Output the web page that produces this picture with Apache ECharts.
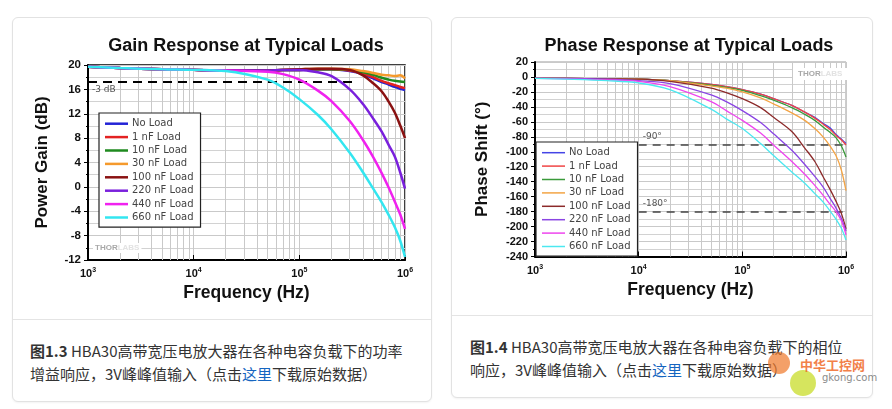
<!DOCTYPE html>
<html>
<head>
<meta charset="utf-8">
<script src="https://cdn.jsdelivr.net/npm/echarts@6/dist/echarts.min.js"></script>
<style>
  html, body { margin: 0; padding: 0; background: #fff; width: 892px; height: 409px; overflow: hidden; position: relative; }
  .card { position: absolute; box-sizing: border-box; border: 1px solid #e2e2e2; border-radius: 6px; background: #fff; box-shadow: 0 1px 2px rgba(0,0,0,0.05); }
  .sep { position: absolute; left: 0; right: 0; border-top: 1px solid #e4e4e4; }
  .cap { position: absolute; font-family: "Noto Sans CJK SC", sans-serif; font-size: 15px; line-height: 23px; color: #333; white-space: nowrap; }
  .cap b { font-weight: 700; }
  .cap a { color: #1565c0; text-decoration: none; }
  .chart { position: absolute; }
  .wm1 { position: absolute; font-family: "Noto Sans CJK SC", sans-serif; font-weight: 700; font-size: 13px; color: #f06a2a; opacity: 0.85; }
  .wm2 { position: absolute; font-family: "DejaVu Sans", sans-serif; font-size: 10px; color: #777; opacity: 0.85; }
  .gear { position: absolute; border-radius: 50%; }
</style>
</head>
<body>
<div class="card" style="left:12px;top:17px;width:420px;height:385px;">
  <div class="sep" style="top:301px;"></div>
  <div class="cap" style="left:17px;top:321px;"><b>图1.3</b> HBA30高带宽压电放大器在各种电容负载下的功率<br>增益响应，3V峰峰值输入（点击<a>这里</a>下载原始数据）</div>
</div>
<div class="card" style="left:451px;top:17px;width:422px;height:381px;">
  <div class="sep" style="top:297px;"></div>
  <div class="cap" style="left:18px;top:317px;"><b>图1.4</b> HBA30高带宽压电放大器在各种电容负载下的相位<br>响应，3V峰峰值输入（点击<a>这里</a>下载原始数据）</div>
</div>
<div id="gain" class="chart" style="left:12px;top:17px;width:420px;height:300px;"></div>
<div id="phase" class="chart" style="left:451px;top:17px;width:422px;height:296px;"></div>
<div class="gear" style="left:768px;top:352px;width:22px;height:22px;background:rgba(240,120,40,0.7);"></div>
<div class="gear" style="left:790px;top:370px;width:26px;height:26px;background:rgba(200,220,40,0.75);"></div>
<div class="wm1" style="left:800px;top:355px;">中华工控网</div>
<div class="wm2" style="left:822px;top:372px;">gkong.com</div>

<script>
// frequency points (Hz)
const freqHz = [1000, 2000, 5000, 10000, 20000, 50000, 70000, 100000, 150000, 200000, 300000, 400000, 500000, 600000, 700000, 800000, 900000, 1000000];

const loadNames = ["No Load", "1 nF Load", "10 nF Load", "30 nF Load", "100 nF Load", "220 nF Load", "440 nF Load", "660 nF Load"];

// power gain, dB
const gainNoLoad = [19.7, 19.5, 19.3, 19.2, 19.1, 19.1, 19.2, 19.2, 19.3, 19.3, 19.0, 18.5, 17.8, 17.2, 16.8, 16.4, 16.1, 15.9];
const gain1nF    = [19.7, 19.5, 19.3, 19.2, 19.1, 19.1, 19.2, 19.2, 19.3, 19.3, 19.1, 18.6, 18.0, 17.4, 17.0, 16.7, 16.4, 16.2];
const gain10nF   = [19.7, 19.5, 19.3, 19.2, 19.1, 19.1, 19.2, 19.2, 19.3, 19.3, 19.2, 18.8, 18.4, 17.9, 17.6, 17.4, 17.3, 17.2];
const gain30nF   = [19.7, 19.5, 19.3, 19.2, 19.1, 19.1, 19.2, 19.3, 19.4, 19.4, 19.3, 19.0, 18.7, 18.4, 18.3, 18.2, 18.3, 17.8];
const gain100nF  = [19.7, 19.5, 19.3, 19.2, 19.1, 19.1, 19.2, 19.3, 19.4, 19.4, 19.2, 18.3, 17.0, 15.7, 14.0, 12.2, 10.1, 8.0];
const gain220nF  = [19.7, 19.5, 19.3, 19.2, 19.1, 19.1, 19.2, 19.2, 18.8, 18.2, 16.0, 13.6, 11.2, 9.1, 6.9, 5.0, 2.4, -0.3];
const gain440nF  = [19.7, 19.5, 19.3, 19.2, 19.1, 18.9, 18.5, 17.6, 15.8, 14.1, 10.8, 7.7, 4.9, 2.3, -0.1, -2.4, -4.5, -6.9];
const gain660nF  = [19.7, 19.5, 19.3, 19.2, 19.0, 17.6, 16.3, 14.4, 11.8, 9.5, 5.6, 2.4, -0.3, -2.5, -4.6, -6.6, -8.8, -11.5];

// phase shift, degrees
const phaseNoLoad = [-2, -2, -2.5, -3, -5, -10, -13, -17, -23, -29, -38, -47, -54, -62, -68, -77, -83, -89];
const phase1nF    = [-2, -2, -2.5, -3, -5, -10, -13, -17, -23, -29, -38, -47, -55, -63, -70, -78, -84, -91];
const phase10nF   = [-2, -2, -2.5, -3, -5, -11, -14, -18, -25, -31, -41, -50, -58, -67, -74, -81, -92, -107];
const phase30nF   = [-2, -2, -2.5, -3, -5, -12, -15, -20, -28, -36, -48, -58, -69, -80, -92, -105, -124, -152];
const phase100nF  = [-2, -2, -2.5, -3, -6, -15, -21, -29, -41, -54, -73, -95, -113, -133, -150, -166, -182, -203];
const phase220nF  = [-2, -2, -3, -5, -9, -24, -33, -45, -61, -76, -98, -117, -133, -147, -162, -175, -189, -206];
const phase440nF  = [-2, -2.5, -4, -6, -13, -33, -45, -58, -75, -91, -113, -130, -145, -158, -170, -180, -192, -211];
const phase660nF  = [-2, -3, -5, -8, -17, -43, -56, -69, -89, -105, -127, -142, -156, -167, -179, -190, -202, -218];

// axis ticks
const gainTicks = { min: -12, max: 20, step: 4 };
const phaseTicks = { min: -240, max: 20, step: 20 };
const minusThreeDb = 17.2;
const phaseRefs = [-90, -180];

const gainSeries = [gainNoLoad, gain1nF, gain10nF, gain30nF, gain100nF, gain220nF, gain440nF, gain660nF];
const phaseSeries = [phaseNoLoad, phase1nF, phase10nF, phase30nF, phase100nF, phase220nF, phase440nF, phase660nF];

const gainColors = ["#2323d6", "#e32222", "#1f8a1f", "#f59a2c", "#8a1212", "#7a20dc", "#f022ef", "#33e6f0"];
const phaseColors = ["#4545e6", "#f04545", "#3a9a3a", "#f3a445", "#8c2a2a", "#8a45e3", "#ee45ee", "#4ce8f0"];

const FONT = "Liberation Sans";

// minor vertical grid lines at 2..9 x 10^n
const minorFreqs = [];
[1000, 10000, 100000].forEach(d => { for (let k = 2; k <= 9; k++) minorFreqs.push(d * k); });

function zip(ys) { return freqHz.map((f, i) => [f, ys[i]]); }

function xAxisCfg(nameGap) {
  return {
    type: "log",
    logBase: 10,
    min: 1000,
    max: 1000000,
    name: "Frequency (Hz)",
    nameLocation: "middle",
    nameGap: nameGap,
    nameTextStyle: { fontFamily: FONT, fontWeight: "bold", fontSize: 17.5, color: "#111" },
    axisLine: { onZero: false, lineStyle: { color: "#000", width: 2 } },
    axisTick: { show: true, inside: true, length: 5, lineStyle: { color: "#000" } },
    splitLine: { show: true, lineStyle: { color: "#c9c9c9", width: 1 } },
    axisLabel: {
      margin: 7,
      formatter: v => "{b|10}{s|" + Math.round(Math.log10(v)) + "}",
      rich: {
        b: { fontFamily: FONT, fontWeight: "bold", fontSize: 11, color: "#111", lineHeight: 14 },
        s: { fontFamily: FONT, fontWeight: "bold", fontSize: 7, color: "#111", verticalAlign: "top", lineHeight: 9 }
      }
    }
  };
}

function legendCfg(left, top, itemH) {
  return {
    data: loadNames,
    orient: "vertical",
    left: left,
    top: top,
    z: 20,
    icon: "rect",
    itemWidth: 23,
    itemHeight: itemH,
    itemGap: 2,
    padding: [5, 7, 4, 6],
    backgroundColor: "#fff",
    borderColor: "#222",
    borderWidth: 1.2,
    borderRadius: 0,
    selectedMode: false,
    textStyle: { fontFamily: "DejaVu Sans", fontSize: 10, color: "#444", lineHeight: 11.4, padding: [0, 0, 0, -1] }
  };
}

function minorGridSeries() {
  return {
    name: "grid", type: "line", data: [], silent: true, z: 1,
    markLine: {
      silent: true, symbol: "none", animation: false, z: 1,
      label: { show: false },
      lineStyle: { color: "#c9c9c9", width: 1, type: "solid" },
      data: minorFreqs.map(f => ({ xAxis: f }))
    }
  };
}

function yAxisCfg(ticks, name, nameGap, labelSize) {
  return {
    type: "value",
    min: ticks.min, max: ticks.max, interval: ticks.step,
    name: name,
    nameLocation: "middle",
    nameGap: nameGap,
    nameTextStyle: { fontFamily: FONT, fontWeight: "bold", fontSize: 17, color: "#111" },
    axisLine: { show: true, lineStyle: { color: "#000", width: 2 } },
    axisTick: { show: true, length: 4, lineStyle: { color: "#000" } },
    minorTick: { show: true, splitNumber: 2, length: 2, lineStyle: { color: "#000" } },
    splitLine: { show: true, lineStyle: { color: "#c9c9c9" } },
    minorSplitLine: { show: true, lineStyle: { color: "#d2d2d2" } },
    axisLabel: { fontFamily: FONT, fontWeight: "bold", fontSize: labelSize, color: "#111", margin: 7 }
  };
}

function thorlabs(left, top, pad) {
  return {
    type: "text", left: left, top: top, z: 5,
    style: {
      text: "{a|THOR}{b|LABS}", backgroundColor: "#fff", padding: pad,
      rich: {
        a: { fontFamily: FONT, fontWeight: "bold", fontSize: 8, fill: "#a8a8a8" },
        b: { fontFamily: FONT, fontWeight: "bold", fontSize: 8, fill: "#e2e2e2" }
      }
    }
  };
}

// gain chart
const gainChart = echarts.init(document.getElementById("gain"), null, { renderer: "canvas" });
gainChart.setOption({
  animation: false,
  title: {
    text: "Gain Response at Typical Loads",
    left: 234, top: 20, textAlign: "center", padding: 0,
    textStyle: { fontFamily: FONT, fontWeight: "bold", fontSize: 18, color: "#111" }
  },
  grid: { left: 76, top: 48, width: 317, height: 195, show: true, borderColor: "#000", borderWidth: 1.5, backgroundColor: "transparent" },
  legend: legendCfg(87, 96, 2.5),
  xAxis: xAxisCfg(23),
  yAxis: yAxisCfg(gainTicks, "Power Gain (dB)", 37, 11.5),
  graphic: [thorlabs(81, 226, [1, 2])],
  series: [minorGridSeries(), {
    name: "ref", type: "line", data: [], silent: true, z: 3,
    markLine: {
      silent: true, symbol: "none", animation: false, z: 3,
      lineStyle: { color: "#000", width: 2, type: [9, 6] },
      label: {
        show: true, position: "insideStartBottom", formatter: "-3 dB",
        fontFamily: "DejaVu Sans", fontSize: 9, color: "#555", distance: [4, 3]
      },
      data: [[{ coord: [1000, minusThreeDb] }, { coord: [350000, minusThreeDb] }]]
    }
  }].concat(gainSeries.map((ys, i) => ({
    name: loadNames[i],
    type: "line",
    data: zip(ys),
    smooth: 0.35,
    showSymbol: false,
    z: 4,
    color: gainColors[i],
    lineStyle: { width: 2.5, color: gainColors[i] }
  })))
});

// phase chart
const phaseChart = echarts.init(document.getElementById("phase"), null, { renderer: "canvas" });
phaseChart.setOption({
  animation: false,
  title: {
    text: "Phase Response at Typical Loads",
    left: 238, top: 20, textAlign: "center", padding: 0,
    textStyle: { fontFamily: FONT, fontWeight: "bold", fontSize: 18, color: "#111" }
  },
  grid: { left: 84, top: 45, width: 311, height: 194.5, show: true, borderColor: "#9a9a9a", borderWidth: 1, backgroundColor: "transparent" },
  legend: legendCfg(85, 125, 1.5),
  xAxis: xAxisCfg(21),
  yAxis: yAxisCfg(phaseTicks, "Phase Shift (°)", 44, 11),
  graphic: [thorlabs(342, 51, [2, 5])],
  series: [minorGridSeries(), {
    name: "ref", type: "line", data: [], silent: true, z: 3,
    markLine: {
      silent: true, symbol: "none", animation: false, z: 3,
      lineStyle: { color: "#444", width: 1.5, type: [8, 6] },
      label: {
        show: true, position: "insideStartTop",
        formatter: p => p.data.coord[1] + "°",
        fontFamily: "DejaVu Sans", fontSize: 9, color: "#555", distance: [4, 3]
      },
      data: phaseRefs.map(v => [{ coord: [10000, v] }, { coord: [1000000, v] }])
    }
  }].concat(phaseSeries.map((ys, i) => ({
    name: loadNames[i],
    type: "line",
    data: zip(ys),
    smooth: 0.35,
    showSymbol: false,
    z: 4,
    color: phaseColors[i],
    lineStyle: { width: 1.3, color: phaseColors[i] }
  })))
});
</script>
</body>
</html>
